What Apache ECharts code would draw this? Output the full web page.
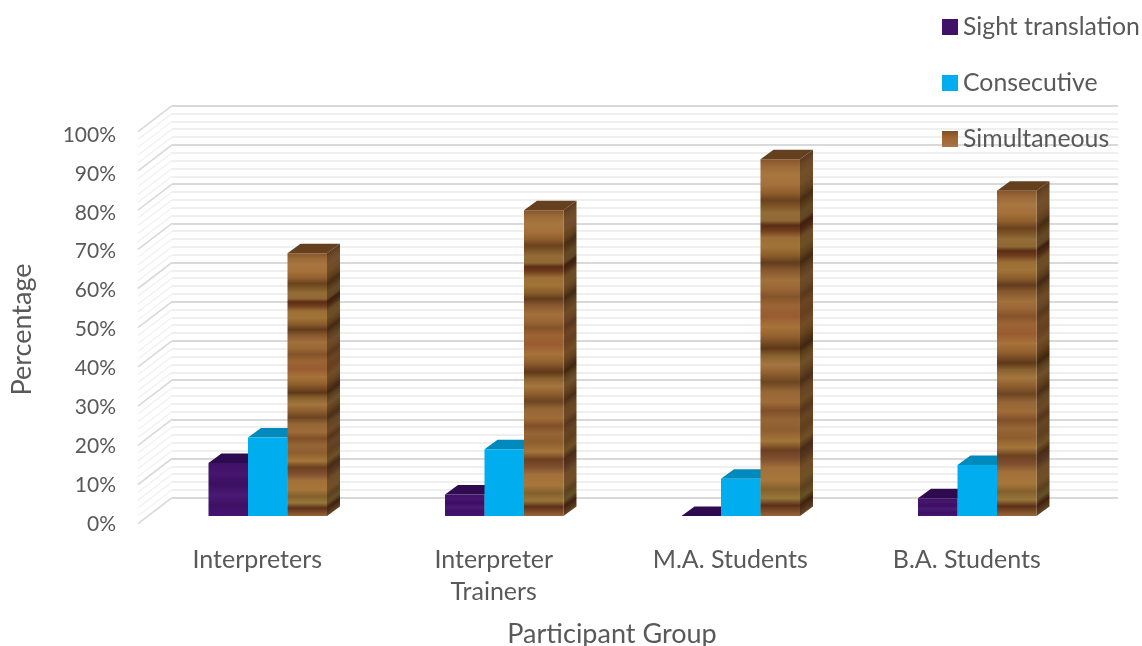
<!DOCTYPE html>
<html>
<head>
<meta charset="utf-8">
<style>html,body{margin:0;padding:0;background:#fff}#chart{width:1142px;height:646px}</style>
<script src="https://cdn.jsdelivr.net/npm/echarts@6/dist/echarts.min.js"></script>
</head>
<body>
<div id="chart"></div>
<script>
// Preferred interpreting mode per participant group, as 3D-style columns.
const groups = ['Interpreters', 'Interpreter\nTrainers', 'M.A. Students', 'B.A. Students'];
const sightTranslation = [13.5, 5.5, 0, 4.5];
const consecutive = [20, 17, 9.5, 13];
const simultaneous = [67, 78, 91, 83];
const percentTicks = [0, 10, 20, 30, 40, 50, 60, 70, 80, 90, 100];
const floorLevels = [0, 2, 4, 6, 8, 10, 12, 14, 16, 18, 20, 22, 24, 26, 28, 30, 32, 34, 36, 38, 40, 42, 44, 46, 48, 50,
  52, 54, 56, 58, 60, 62, 64, 66, 68, 70, 72, 74, 76, 78, 80, 82, 84, 86, 88, 90, 92, 94, 96, 98, 100];

const INK = '#595959';
const FONT = 'Lato, "Open Sans", sans-serif';

// Projection of the box depth onto the page.
const SIDE_DX = 13, SIDE_DY = 9.5;
const WALL_DX = 34, WALL_DY = 26;

// Wood grain bands from the top of a column to its foot.
const woodBands = [
  [0, '#85552a'], [.02, '#9c6a38'], [.045, '#a8763f'], [.07, '#a5703a'], [.095, '#8f5e2c'], [.115, '#6a421e'], [.13, '#7c5324'],
  [.15, '#936c38'], [.172, '#8f6834'], [.185, '#5a2d16'], [.2, '#703c1c'], [.22, '#9c6e36'], [.245, '#a07438'],
  [.27, '#8a5c2a'], [.29, '#623c1e'], [.31, '#85572c'], [.34, '#a2703c'], [.365, '#996535'], [.385, '#84532a'],
  [.41, '#9c6433'], [.44, '#985c30'], [.47, '#a8723a'], [.495, '#94622e'], [.515, '#754a24'], [.53, '#5f3818'], [.55, '#87602e'],
  [.575, '#a5763f'], [.6, '#8e5f2e'], [.625, '#6d4522'], [.65, '#946636'], [.68, '#a06c38'], [.705, '#7f4f28'],
  [.73, '#966535'], [.76, '#8e5e2e'], [.79, '#a4763a'], [.815, '#6c4020'], [.84, '#7f5030'], [.865, '#a2703a'],
  [.9, '#a6763a'], [.925, '#84602c'], [.95, '#98763a'], [.97, '#5c3018'], [.985, '#7a4a26'], [1, '#94683a']
];
const violetBands = [
  [0, '#3f1167'], [.2, '#47166f'], [.4, '#3a0f60'], [.6, '#4a1a75'], [.8, '#3d1064'], [1, '#461570']
];
const azureBands = [[0, '#00aeef'], [1, '#00aeef']];

function shade(hex, factor) {
  const n = parseInt(hex.slice(1), 16);
  const part = s => Math.round(((n >> s) & 255) * factor);
  return 'rgb(' + part(16) + ',' + part(8) + ',' + part(0) + ')';
}
const toStops = (bands, factor) => bands.map(b => ({ offset: b[0], color: shade(b[1], factor) }));
const verticalGradient = (bands, factor) => ({
  type: 'linear', x: 0, y: 0, x2: 0, y2: 1, colorStops: toStops(bands, factor)
});

// One column: front face, receding side face, top face.
function renderColumn(slot, bands, topColor) {
  return function (params, api) {
    const value = api.value(1);
    const base = api.coord([api.value(0), 0]);
    const head = api.coord([api.value(0), value]);
    const w = api.size([1, 0])[0] * 0.167;
    const x0 = base[0] + (slot - 1.5) * w, x1 = x0 + w;
    const yb = base[1], yt = head[1];
    const h = yb - yt;
    const norm = SIDE_DY * SIDE_DY + SIDE_DX * SIDE_DX;
    const sideFill = {
      type: 'linear', global: true,
      x: x1, y: yt,
      x2: x1 + SIDE_DY * h * SIDE_DX / norm,
      y2: yt + SIDE_DX * h * SIDE_DX / norm,
      colorStops: toStops(bands, 0.68)
    };
    const children = [];
    children.push({
      type: 'polygon',
      shape: { points: [[x1, yt], [x1 + SIDE_DX, yt - SIDE_DY], [x1 + SIDE_DX, yb - SIDE_DY], [x1, yb]] },
      style: { fill: sideFill }
    });
    children.push({
      type: 'polygon',
      shape: { points: [[x0, yt], [x0 + SIDE_DX, yt - SIDE_DY], [x1 + SIDE_DX, yt - SIDE_DY], [x1, yt]] },
      style: { fill: topColor }
    });
    if (h > 0) {
      children.push({
        type: 'rect',
        shape: { x: x0, y: yt, width: w, height: h },
        style: { fill: verticalGradient(bands, 1) }
      });
    }
    return { type: 'group', children };
  };
}

function columnSeries(name, values, slot, bands, topColor, legendColor) {
  return {
    name, type: 'custom', coordinateSystem: 'cartesian2d',
    xAxisIndex: 2, yAxisIndex: 2, z: 5 + slot, silent: true,
    itemStyle: { color: legendColor },
    renderItem: renderColumn(slot, bands, topColor),
    data: values.map((v, i) => [i, v])
  };
}

// Left-hand floor of the chart box, running forward from the back wall.
const wallEdges = {
  type: 'custom', coordinateSystem: 'cartesian2d', xAxisIndex: 0, yAxisIndex: 0, z: 2, silent: true,
  legendHoverLink: false,
  renderItem(params, api) {
    const level = api.value(0);
    const p = api.coord([0, level]);
    const x = params.coordSys.x;
    const major = level % 10 === 0;
    return {
      type: 'line',
      shape: { x1: x, y1: p[1], x2: x - WALL_DX, y2: p[1] + WALL_DY },
      style: { stroke: major ? '#d9d9d9' : '#f0f0f0', lineWidth: major ? 1.6 : 1.2 }
    };
  },
  data: floorLevels.map(v => [v])
};

const hiddenAxis = { show: false };
const chart = echarts.init(document.getElementById('chart'), null, { renderer: 'canvas' });
chart.setOption({
  animation: false,
  backgroundColor: '#fff',
  legend: {
    orient: 'vertical', left: 937, top: 9, itemWidth: 16, itemHeight: 16, itemGap: 30,
    icon: 'rect', z: 20,
    data: ['Sight translation', 'Consecutive', 'Simultaneous'],
    textStyle: { color: INK, fontFamily: FONT, fontSize: 24.8, lineHeight: 26 }
  },
  grid: [
    // back wall
    { left: 172, top: 105.7, width: 946, height: 392, outerBoundsMode: 'none' },
    // front plane, carries the axis text
    { left: 139, top: 135, width: 946, height: 389, outerBoundsMode: 'none' },
    // plane the columns stand on
    { left: 149.5, top: 124, width: 946, height: 392, outerBoundsMode: 'none' }
  ],
  xAxis: [
    { gridIndex: 0, type: 'category', data: groups, axisLine: { show: false }, axisTick: { show: false }, axisLabel: { show: false } },
    {
      gridIndex: 1, type: 'category', data: groups,
      axisLine: { show: false }, axisTick: { show: false },
      axisLabel: { color: INK, fontFamily: FONT, fontSize: 25, lineHeight: 32, margin: 20 },
      name: 'Participant Group', nameLocation: 'middle', nameGap: 97,
      nameTextStyle: { color: INK, fontFamily: FONT, fontSize: 27 }
    },
    { gridIndex: 2, type: 'category', data: groups, ...hiddenAxis }
  ],
  yAxis: [
    {
      gridIndex: 0, type: 'value', min: 0, max: 100, interval: 10,
      axisLine: { show: false }, axisTick: { show: false }, axisLabel: { show: false },
      splitLine: { show: true, lineStyle: { color: '#d9d9d9', width: 2 } },
      minorTick: { show: false, splitNumber: 5 },
      minorSplitLine: { show: true, lineStyle: { color: '#efefef', width: 2 } }
    },
    {
      gridIndex: 1, type: 'value', min: 0, max: 100, interval: 10,
      axisLine: { show: false }, axisTick: { show: false }, splitLine: { show: false },
      axisLabel: { color: INK, fontFamily: FONT, fontSize: 21, margin: 23, formatter: v => percentTicks[v / 10] + '%' },
      name: 'Percentage', nameLocation: 'middle', nameGap: 103, nameRotate: 90,
      nameTextStyle: { color: INK, fontFamily: FONT, fontSize: 27 }
    },
    { gridIndex: 2, type: 'value', min: 0, max: 100, interval: 10, ...hiddenAxis }
  ],
  series: [
    wallEdges,
    columnSeries('Sight translation', sightTranslation, 0, violetBands, '#2d0b4e', '#3f1167'),
    columnSeries('Consecutive', consecutive, 1, azureBands, '#0089bb', '#00aeef'),
    columnSeries('Simultaneous', simultaneous, 2, woodBands, '#64401f',
      { type: 'linear', x: 0, y: 0, x2: 0, y2: 1, colorStops: [{ offset: 0, color: '#7d4f24' }, { offset: .4, color: '#a0642f' }, { offset: 1, color: '#a9744a' }] })
  ]
});
</script>
</body>
</html>
